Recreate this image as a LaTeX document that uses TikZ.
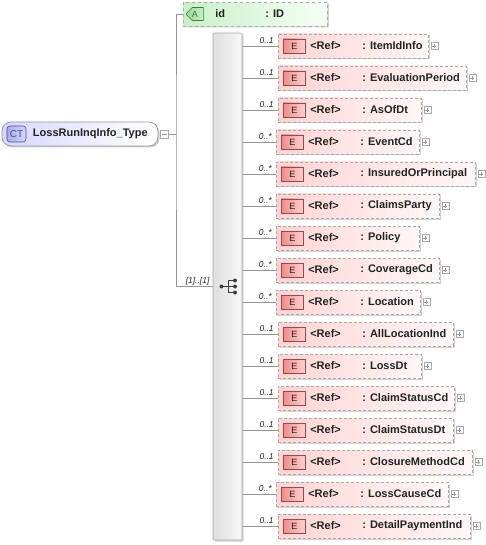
\documentclass[tikz,border=0pt]{standalone}
\usepackage{fontspec}
\setmainfont{Liberation Sans}
\usetikzlibrary{positioning,shapes.misc,shadows}
\definecolor{xsd@line}{RGB}{150,150,150}
\definecolor{xsd@dash}{RGB}{170,170,170}
\definecolor{xsd@pink}{RGB}{255,212,212}
\definecolor{xsd@pinklight}{RGB}{255,247,247}
\definecolor{xsd@ered}{RGB}{150,75,75}
\definecolor{xsd@efill}{RGB}{240,140,140}
\definecolor{xsd@efilllight}{RGB}{255,208,208}
\definecolor{xsd@green}{RGB}{200,240,200}
\definecolor{xsd@greenlight}{RGB}{246,255,246}
\definecolor{xsd@agreen}{RGB}{70,120,70}
\definecolor{xsd@afill}{RGB}{150,215,150}
\definecolor{xsd@lavender}{RGB}{215,215,255}
\definecolor{xsd@ctblue}{RGB}{80,80,130}
\definecolor{xsd@ctfill}{RGB}{170,170,235}
\definecolor{xsd@barl}{RGB}{222,222,222}
\definecolor{xsd@barr}{RGB}{248,248,248}
\definecolor{xsd@icon}{RGB}{60,60,60}
\definecolor{xsd@text}{RGB}{35,35,35}
\tikzset{
  xsd/.style={
    x=1pt, y=-1pt,
    line width=0.6pt,
    every node/.style={inner sep=0pt}
  },
  conn/.style={draw=xsd@line, line width=0.6pt},
  softshadow/.style={drop shadow={shadow xshift=1.5pt, shadow yshift=-1.5pt, opacity=0.18, fill=black}},
  ctnode/.style={                  % complex type box
    draw=xsd@line, line width=0.7pt,
    rounded corners=9pt,
    left color=xsd@lavender, right color=white,
    minimum width=156pt, minimum height=24pt,
    softshadow
  },
  ctbadge/.style={
    draw=xsd@ctblue, line width=0.6pt,
    rounded corners=3pt,
    left color=xsd@ctfill, right color=xsd@lavender,
    minimum width=19pt, minimum height=16pt,
    font=\fontsize{10}{12}\selectfont, text=xsd@ctblue
  },
  attrnode/.style={                % attribute box
    chamfered rectangle,
    chamfered rectangle corners={north west,south west},
    chamfered rectangle xsep=6pt, chamfered rectangle ysep=6pt,
    draw=xsd@dash, dashed,
    left color=xsd@green, right color=xsd@greenlight,
    minimum width=144pt, minimum height=24pt,
    anchor=west, softshadow
  },
  abadge/.style={
    chamfered rectangle,
    chamfered rectangle corners={north west,south west},
    chamfered rectangle xsep=3pt, chamfered rectangle ysep=3pt,
    draw=xsd@agreen, line width=0.6pt,
    left color=xsd@afill, right color=xsd@green,
    minimum width=17pt, minimum height=13pt,
    font=\fontsize{9}{10}\selectfont, text=xsd@agreen
  },
  elem/.style={                    % element reference box
    draw=xsd@dash, dash pattern=on 3pt off 2pt,
    left color=xsd@pink, right color=xsd@pinklight,
    minimum height=24pt,
    anchor=west, softshadow
  },
  ebadge/.style={
    draw=xsd@ered, line width=0.6pt,
    left color=xsd@efill, right color=xsd@efilllight,
    minimum width=22pt, minimum height=14pt,
    font=\fontsize{9}{10}\selectfont, text=xsd@text
  },
  seqbar/.style={                  % sequence compositor
    draw=xsd@dash, line width=0.6pt,
    rounded corners=1pt,
    left color=xsd@barl, right color=xsd@barr,
    minimum width=29pt, minimum height=507pt,
    softshadow
  },
  plusbox/.style={
    draw=xsd@dash, fill=white, line width=0.5pt,
    minimum size=7pt,
    path picture={\draw[xsd@line, line width=0.5pt]
      ([xshift=-2pt]path picture bounding box.center) -- ([xshift=2pt]path picture bounding box.center)
      ([yshift=-2pt]path picture bounding box.center) -- ([yshift=2pt]path picture bounding box.center);}
  },
  minusbox/.style={
    draw=xsd@dash, fill=white, line width=0.5pt,
    minimum size=8pt,
    path picture={\draw[xsd@line, line width=0.5pt]
      ([xshift=-2.5pt]path picture bounding box.center) -- ([xshift=2.5pt]path picture bounding box.center);}
  },
  nametext/.style={font=\fontsize{11}{13}\selectfont\bfseries, text=xsd@text, anchor=west},
  multtext/.style={font=\fontsize{8.5}{10}\selectfont\itshape, text=xsd@text, anchor=base east}
}
\begin{document}
\begin{tikzpicture}[xsd]
\useasboundingbox (0,0) rectangle (485,545);

% Complex type on the left
\node[ctnode] (lossrun) at (80,134) {};
\node[ctbadge, right=5pt of lossrun.west] (lossrun-badge) {CT};
\node[nametext] at ([xshift=31pt]lossrun.west) {LossRunInqInfo\_Type};
\node[minusbox, right=2pt of lossrun.east] (lossrun-minus) {};
\coordinate (fork) at (176,134);

% Attribute id
\node[attrnode] (id) at (183,14) {};
\node[abadge, right=3pt of id.west] (id-badge) {A};
\node[nametext] at ([xshift=32pt]id.west) {id};
\node[nametext] at ([xshift=82pt]id.west) {: ID};

% Sequence bar with compositor glyph
\node[seqbar] (seq) at (227.5,286.5) {};
\begin{scope}[shift={(seq.center)}, color=xsd@icon]
  \draw[line width=0.9pt] (-6,0) -- (0.5,0) (0.5,-6) -- (0.5,6)
    (0.5,-6) -- (7.5,-6) (0.5,0) -- (7.5,0) (0.5,6) -- (7.5,6);
  \fill (-6,0) circle (2) (7.5,-6) circle (2) (7.5,0) circle (2) (7.5,6) circle (2);
\end{scope}

% Trunk lines
\draw[conn] (lossrun-minus.east) -- (fork);
\draw[conn] (id.west) -| (fork) |- (seq.west);
\node[multtext] at ([xshift=-3pt, yshift=3pt]seq.west) {[1]..[1]};

% Element references
\foreach \name/\mult/\lft/\rgt [count=\i] in {
  ItemIdInfo/1/278/428, EvaluationPeriod/1/278/466, AsOfDt/1/278/421,
  EventCd/*/276/419, InsuredOrPrincipal/*/276/475, ClaimsParty/*/276/439,
  Policy/*/276/419, CoverageCd/*/276/439, Location/*/276/420,
  AllLocationInd/1/278/453, LossDt/1/278/421, ClaimStatusCd/1/278/454,
  ClaimStatusDt/1/278/453, ClosureMethodCd/1/278/472, LossCauseCd/*/276/448,
  DetailPaymentInd/1/278/470}
{
  \node[elem, minimum width={\rgt-\lft}] (\name) at (\lft, {46+32*(\i-1)}) {};
  \node[ebadge, right=5pt of \name.west] (\name-badge) {E};
  \node[nametext] at ([xshift=32pt]\name.west) {<Ref>};
  \node[nametext] at ([xshift=84pt]\name.west) {: \name};
  \node[plusbox, right=2pt of \name.east] (\name-plus) {};
  \node[multtext] at ([xshift=-4pt, yshift=2.5pt]\name.west) {0..\mult};
  \draw[conn] (seq.east |- \name.west) -- (\name.west);
}
\end{tikzpicture}
\end{document}
